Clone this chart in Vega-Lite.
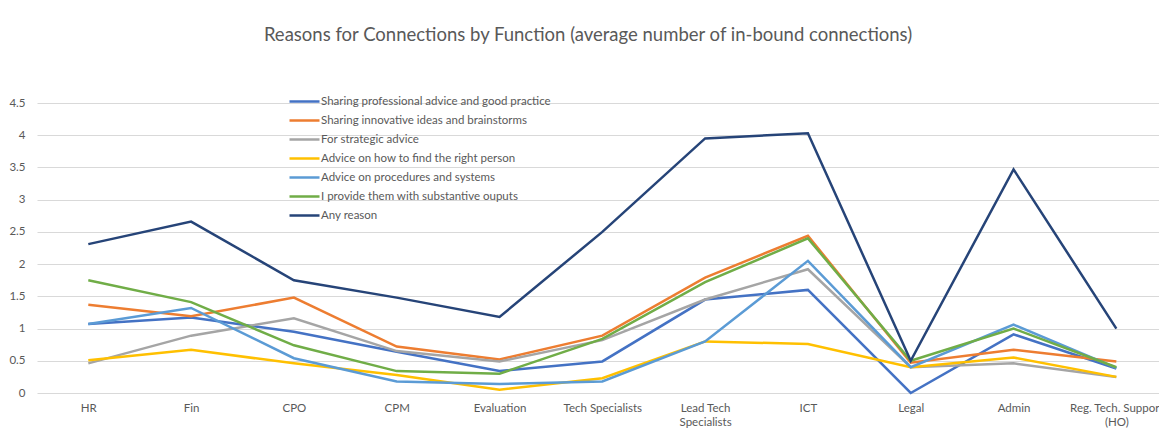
{
  "$schema": "https://vega.github.io/schema/vega-lite/v6.json",
  "width": 1122,
  "height": 290,
  "autosize": {"type": "none"},
  "padding": {"left": 37, "top": 103, "right": 0, "bottom": 35},
  "background": "white",
  "title": {
    "text": "Reasons for Connections by Function (average number of in-bound connections)",
    "font": "Lato",
    "fontSize": 18.5,
    "fontWeight": "normal",
    "color": "#595959",
    "anchor": "middle",
    "dx": -10,
    "offset": 50
  },
  "config": {
    "view": {"stroke": null},
    "font": "Lato"
  },
  "data": {
    "values": [
      {"f": "HR", "r": "Sharing professional advice and good practice", "v": 1.07},
      {"f": "Fin", "r": "Sharing professional advice and good practice", "v": 1.17},
      {"f": "CPO", "r": "Sharing professional advice and good practice", "v": 0.95},
      {"f": "CPM", "r": "Sharing professional advice and good practice", "v": 0.64},
      {"f": "Evaluation", "r": "Sharing professional advice and good practice", "v": 0.34},
      {"f": "Tech Specialists", "r": "Sharing professional advice and good practice", "v": 0.49},
      {"f": "Lead Tech Specialists", "r": "Sharing professional advice and good practice", "v": 1.45},
      {"f": "ICT", "r": "Sharing professional advice and good practice", "v": 1.6},
      {"f": "Legal", "r": "Sharing professional advice and good practice", "v": 0.0},
      {"f": "Admin", "r": "Sharing professional advice and good practice", "v": 0.91},
      {"f": "Reg. Tech. Support (HO)", "r": "Sharing professional advice and good practice", "v": 0.38},

      {"f": "HR", "r": "Sharing innovative ideas and brainstorms", "v": 1.37},
      {"f": "Fin", "r": "Sharing innovative ideas and brainstorms", "v": 1.19},
      {"f": "CPO", "r": "Sharing innovative ideas and brainstorms", "v": 1.48},
      {"f": "CPM", "r": "Sharing innovative ideas and brainstorms", "v": 0.72},
      {"f": "Evaluation", "r": "Sharing innovative ideas and brainstorms", "v": 0.52},
      {"f": "Tech Specialists", "r": "Sharing innovative ideas and brainstorms", "v": 0.89},
      {"f": "Lead Tech Specialists", "r": "Sharing innovative ideas and brainstorms", "v": 1.79},
      {"f": "ICT", "r": "Sharing innovative ideas and brainstorms", "v": 2.44},
      {"f": "Legal", "r": "Sharing innovative ideas and brainstorms", "v": 0.47},
      {"f": "Admin", "r": "Sharing innovative ideas and brainstorms", "v": 0.67},
      {"f": "Reg. Tech. Support (HO)", "r": "Sharing innovative ideas and brainstorms", "v": 0.49},

      {"f": "HR", "r": "For strategic advice", "v": 0.46},
      {"f": "Fin", "r": "For strategic advice", "v": 0.89},
      {"f": "CPO", "r": "For strategic advice", "v": 1.16},
      {"f": "CPM", "r": "For strategic advice", "v": 0.65},
      {"f": "Evaluation", "r": "For strategic advice", "v": 0.49},
      {"f": "Tech Specialists", "r": "For strategic advice", "v": 0.82},
      {"f": "Lead Tech Specialists", "r": "For strategic advice", "v": 1.45},
      {"f": "ICT", "r": "For strategic advice", "v": 1.92},
      {"f": "Legal", "r": "For strategic advice", "v": 0.4},
      {"f": "Admin", "r": "For strategic advice", "v": 0.46},
      {"f": "Reg. Tech. Support (HO)", "r": "For strategic advice", "v": 0.25},

      {"f": "HR", "r": "Advice on how to find the right person", "v": 0.51},
      {"f": "Fin", "r": "Advice on how to find the right person", "v": 0.67},
      {"f": "CPO", "r": "Advice on how to find the right person", "v": 0.46},
      {"f": "CPM", "r": "Advice on how to find the right person", "v": 0.28},
      {"f": "Evaluation", "r": "Advice on how to find the right person", "v": 0.05},
      {"f": "Tech Specialists", "r": "Advice on how to find the right person", "v": 0.23},
      {"f": "Lead Tech Specialists", "r": "Advice on how to find the right person", "v": 0.8},
      {"f": "ICT", "r": "Advice on how to find the right person", "v": 0.76},
      {"f": "Legal", "r": "Advice on how to find the right person", "v": 0.4},
      {"f": "Admin", "r": "Advice on how to find the right person", "v": 0.55},
      {"f": "Reg. Tech. Support (HO)", "r": "Advice on how to find the right person", "v": 0.25},

      {"f": "HR", "r": "Advice on procedures and systems", "v": 1.07},
      {"f": "Fin", "r": "Advice on procedures and systems", "v": 1.32},
      {"f": "CPO", "r": "Advice on procedures and systems", "v": 0.54},
      {"f": "CPM", "r": "Advice on procedures and systems", "v": 0.18},
      {"f": "Evaluation", "r": "Advice on procedures and systems", "v": 0.14},
      {"f": "Tech Specialists", "r": "Advice on procedures and systems", "v": 0.18},
      {"f": "Lead Tech Specialists", "r": "Advice on procedures and systems", "v": 0.8},
      {"f": "ICT", "r": "Advice on procedures and systems", "v": 2.05},
      {"f": "Legal", "r": "Advice on procedures and systems", "v": 0.4},
      {"f": "Admin", "r": "Advice on procedures and systems", "v": 1.06},
      {"f": "Reg. Tech. Support (HO)", "r": "Advice on procedures and systems", "v": 0.39},

      {"f": "HR", "r": "I provide them with substantive ouputs", "v": 1.75},
      {"f": "Fin", "r": "I provide them with substantive ouputs", "v": 1.41},
      {"f": "CPO", "r": "I provide them with substantive ouputs", "v": 0.74},
      {"f": "CPM", "r": "I provide them with substantive ouputs", "v": 0.34},
      {"f": "Evaluation", "r": "I provide them with substantive ouputs", "v": 0.3},
      {"f": "Tech Specialists", "r": "I provide them with substantive ouputs", "v": 0.84},
      {"f": "Lead Tech Specialists", "r": "I provide them with substantive ouputs", "v": 1.72},
      {"f": "ICT", "r": "I provide them with substantive ouputs", "v": 2.4},
      {"f": "Legal", "r": "I provide them with substantive ouputs", "v": 0.5},
      {"f": "Admin", "r": "I provide them with substantive ouputs", "v": 1.0},
      {"f": "Reg. Tech. Support (HO)", "r": "I provide them with substantive ouputs", "v": 0.4},

      {"f": "HR", "r": "Any reason", "v": 2.31},
      {"f": "Fin", "r": "Any reason", "v": 2.66},
      {"f": "CPO", "r": "Any reason", "v": 1.75},
      {"f": "CPM", "r": "Any reason", "v": 1.48},
      {"f": "Evaluation", "r": "Any reason", "v": 1.18},
      {"f": "Tech Specialists", "r": "Any reason", "v": 2.5},
      {"f": "Lead Tech Specialists", "r": "Any reason", "v": 3.95},
      {"f": "ICT", "r": "Any reason", "v": 4.03},
      {"f": "Legal", "r": "Any reason", "v": 0.5},
      {"f": "Admin", "r": "Any reason", "v": 3.47},
      {"f": "Reg. Tech. Support (HO)", "r": "Any reason", "v": 1.0}
    ]
  },
  "mark": {"type": "line", "strokeWidth": 2.5, "strokeJoin": "miter"},
  "encoding": {
    "x": {
      "field": "f",
      "type": "nominal",
      "sort": null,
      "scale": {"type": "point", "padding": 0.457, "align": 0.546},
      "axis": {
        "title": null,
        "labelAngle": 0,
        "domain": false,
        "ticks": false,
        "grid": false,
        "labelFont": "Lato",
        "labelFontSize": 11.5,
        "labelColor": "#595959",
        "labelPadding": 9,
        "labelLineHeight": 14,
        "labelExpr": "datum.label == 'Lead Tech Specialists' ? ['Lead Tech', 'Specialists'] : datum.label == 'Reg. Tech. Support (HO)' ? ['Reg. Tech. Support', '(HO)'] : datum.label"
      }
    },
    "y": {
      "field": "v",
      "type": "quantitative",
      "scale": {"domain": [0, 4.5], "nice": false},
      "axis": {
        "title": null,
        "values": [0, 0.5, 1, 1.5, 2, 2.5, 3, 3.5, 4, 4.5],
        "format": "~g",
        "domain": false,
        "ticks": false,
        "gridColor": "#d9d9d9",
        "gridWidth": 1,
        "labelFont": "Lato",
        "labelFontSize": 11.5,
        "labelColor": "#595959",
        "labelPadding": 12
      }
    },
    "color": {
      "field": "r",
      "type": "nominal",
      "sort": null,
      "scale": {
        "domain": [
          "Sharing professional advice and good practice",
          "Sharing innovative ideas and brainstorms",
          "For strategic advice",
          "Advice on how to find the right person",
          "Advice on procedures and systems",
          "I provide them with substantive ouputs",
          "Any reason"
        ],
        "range": ["#4472C4", "#ED7D31", "#A5A5A5", "#FFC000", "#5B9BD5", "#70AD47", "#264478"]
      },
      "legend": {
        "title": null,
        "orient": "none",
        "legendX": 251,
        "legendY": -9,
        "symbolType": "stroke",
        "symbolSize": 900,
        "symbolStrokeWidth": 2.5,
        "labelFont": "Lato",
        "labelFontSize": 11.5,
        "labelColor": "#595959",
        "labelLimit": 0,
        "labelOffset": 0,
        "clipHeight": 15,
        "rowPadding": 4
      }
    }
  }
}
